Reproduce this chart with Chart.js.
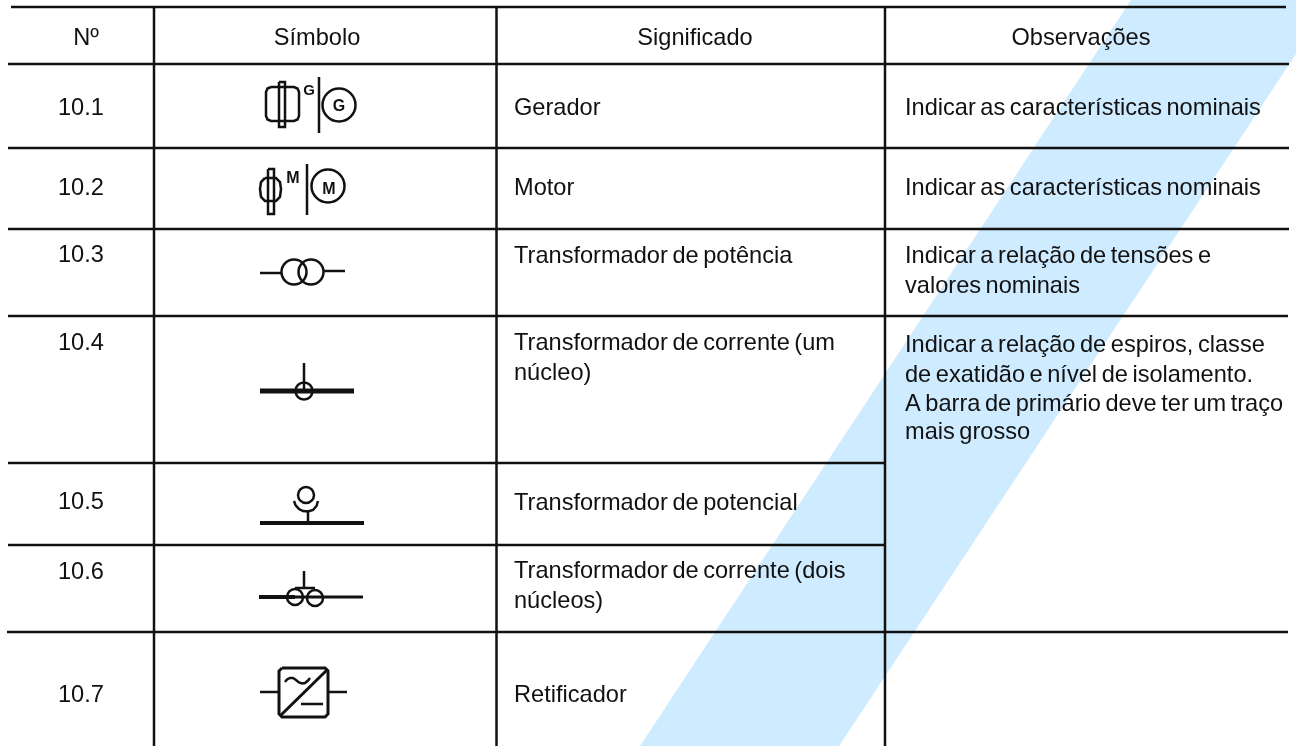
<!DOCTYPE html>
<html lang="pt">
<head>
<meta charset="utf-8">
<title>Simbologia</title>
<script src="https://cdn.jsdelivr.net/npm/chart.js@4"></script>
<style>
  html, body { margin: 0; padding: 0; background: #fff; overflow: hidden; }
  canvas { display: block; }
</style>
</head>
<body>
<canvas id="tabela" width="1296" height="746"></canvas>
<script>
// textos da tabela
const cabecalhos = ['Nº', 'Símbolo', 'Significado', 'Observações'];
const cabecalhosX = [86, 317, 695, 1081];
const numeros = ['10.1', '10.2', '10.3', '10.4', '10.5', '10.6', '10.7'];
const numerosY = [115, 195, 262, 350, 509, 579, 702];
const significados = [
  ['Gerador', 115],
  ['Motor', 195],
  ['Transformador de potência', 263],
  ['Transformador de corrente (um', 350],
  ['núcleo)', 380],
  ['Transformador de potencial', 510],
  ['Transformador de corrente (dois', 578],
  ['núcleos)', 608],
  ['Retificador', 702]
];
const observacoes = [
  ['Indicar as características nominais', 115],
  ['Indicar as características nominais', 195],
  ['Indicar a relação de tensões e', 263],
  ['valores nominais', 293],
  ['Indicar a relação de espiros, classe', 352],
  ['de exatidão e nível de isolamento.', 382],
  ['A barra de primário deve ter um traço', 411],
  ['mais grosso', 439]
];
const letrasSimbolo = [
  ['G', 309, 95, 15], ['G', 339, 111, 16],
  ['M', 293, 183, 16], ['M', 329, 194, 16]
];

// grade: [inicio, fim, posicao]
const linhasH = [
  [11, 1286, 7], [8, 1289, 64], [8, 1289, 148], [8, 1289, 229], [8, 1288, 316],
  [8, 885, 463], [8, 885, 545], [7, 1288, 632]
];
const linhasV = [[154, 7, 746], [496.5, 7, 746], [885, 7, 746]];

// faixa azul do fundo
const faixa = [[1131, 0], [1296, 0], [1296, 54], [839, 746], [640, 746], [1131, 0]];

// tracos dos simbolos: [largura, pontos]
const tracos = [
  // 10.1
  [2.5, [[271, 87], [294, 87], [297.5, 88.5], [299, 92], [299, 116], [297.5, 119.5], [294, 121], [271, 121], [267.5, 119.5], [266, 116], [266, 92], [267.5, 88.5], [271, 87]]],
  [2.5, [[279, 82], [285, 82], [285, 127], [279, 127], [279, 82]]],
  [2.5, [[319, 77], [319, 133]]],
  // 10.2
  [2.5, [[265, 178], [276, 178], [280, 182], [281, 189], [280, 197], [276, 201], [265, 201], [261, 197], [260, 189], [261, 182], [265, 178]]],
  [2.5, [[268, 169], [274, 169], [274, 214], [268, 214], [268, 169]]],
  [2.5, [[307, 164], [307, 215]]],
  // 10.3
  [2.5, [[260, 273], [282, 273]]],
  [2.5, [[323, 271], [345, 271]]],
  // 10.4
  [2.5, [[304, 363], [304, 390]]],
  [5, [[260, 391], [354, 391]]],
  // 10.5
  [2.5, [[294, 501], [295.5, 505], [299, 509], [303, 511], [308, 511.5], [313, 510], [316.5, 506], [318, 501]]],
  [2.5, [[308, 510], [308, 523]]],
  [4, [[260, 523], [364, 523]]],
  // 10.6
  [2.5, [[304, 571], [304, 588]]],
  [2.5, [[295, 588], [315, 588]]],
  [4, [[259, 597], [295, 597]]],
  [3, [[295, 597], [363, 597]]],
  // 10.7
  [3, [[282, 668], [325, 668], [328, 671], [328, 714], [325, 717], [282, 717], [279, 714], [279, 671], [282, 668]]],
  [2.5, [[260, 692], [279, 692]]],
  [2.5, [[328, 692], [347, 692]]],
  [3, [[280, 716], [328, 669]]],
  [2.5, [[285, 682], [287, 679.5], [290, 678], [293, 678], [296, 680], [299, 682.5], [302, 683.5], [305, 683], [308, 680.5], [310, 678]]],
  [2.5, [[301, 704], [323, 704]]]
];

// circulos dos simbolos: [x, y, raio]
const circulos = [
  [339, 105, 16.5], [328, 186, 16.5],
  [294, 272, 12.5], [311, 272, 12.5],
  [304, 391, 8.5],
  [306, 495, 8],
  [295, 597, 8], [315, 598, 8]
];

const corTraco = '#111111';
const fonte = '"Liberation Sans", Arial, sans-serif';

function textoLivre(ctx, scales, txt, x, y, align) {
  ctx.textAlign = align;
  ctx.fillText(txt, scales.x.getPixelForValue(x), scales.y.getPixelForValue(y));
}

const textosPlugin = {
  id: 'textos',
  afterDatasetsDraw(chart) {
    const ctx = chart.ctx;
    const s = chart.scales;
    ctx.save();
    ctx.fillStyle = corTraco;
    ctx.textBaseline = 'alphabetic';
    ctx.font = '23.6px ' + fonte;
    ctx.wordSpacing = '-2px';
    cabecalhos.forEach((t, i) => textoLivre(ctx, s, t, cabecalhosX[i], 45, 'center'));
    numeros.forEach((t, i) => textoLivre(ctx, s, t, 58, numerosY[i], 'left'));
    significados.forEach(l => textoLivre(ctx, s, l[0], 514, l[1], 'left'));
    observacoes.forEach(l => textoLivre(ctx, s, l[0], 905, l[1], 'left'));
    ctx.wordSpacing = '0px';
    letrasSimbolo.forEach(l => {
      ctx.font = 'bold ' + l[3] + 'px ' + fonte;
      textoLivre(ctx, s, l[0], l[1], l[2], 'center');
    });
    ctx.restore();
  }
};

function linha(pontos, largura) {
  return {
    data: pontos.map(p => ({ x: p[0], y: p[1] })),
    showLine: true,
    borderColor: corTraco,
    borderWidth: largura,
    pointRadius: 0,
    order: 1
  };
}

const datasets = [];
datasets.push({
  data: faixa.map(p => ({ x: p[0], y: p[1] })),
  showLine: true,
  fill: 'shape',
  backgroundColor: '#CFEBFF',
  borderWidth: 0,
  pointRadius: 0,
  order: 5
});
linhasH.forEach(l => datasets.push(linha([[l[0], l[2]], [l[1], l[2]]], 2.5)));
linhasV.forEach(l => datasets.push(linha([[l[0], l[1]], [l[0], l[2]]], 2.5)));
tracos.forEach(t => datasets.push(linha(t[1], t[0])));
circulos.forEach(c => datasets.push({
  data: [{ x: c[0], y: c[1] }],
  showLine: false,
  pointStyle: 'circle',
  pointRadius: c[2],
  pointBackgroundColor: 'rgba(0,0,0,0)',
  pointBorderColor: corTraco,
  pointBorderWidth: 2.5,
  order: 1
}));

new Chart(document.getElementById('tabela'), {
  type: 'scatter',
  data: { datasets: datasets },
  options: {
    responsive: false,
    animation: false,
    layout: { padding: 0, autoPadding: false },
    plugins: { legend: { display: false }, tooltip: { enabled: false }, title: { display: false } },
    scales: {
      x: { type: 'linear', min: 0, max: 1296, display: false },
      y: { type: 'linear', min: 0, max: 746, reverse: true, display: false }
    }
  },
  plugins: [textosPlugin]
});
</script>
</body>
</html>
